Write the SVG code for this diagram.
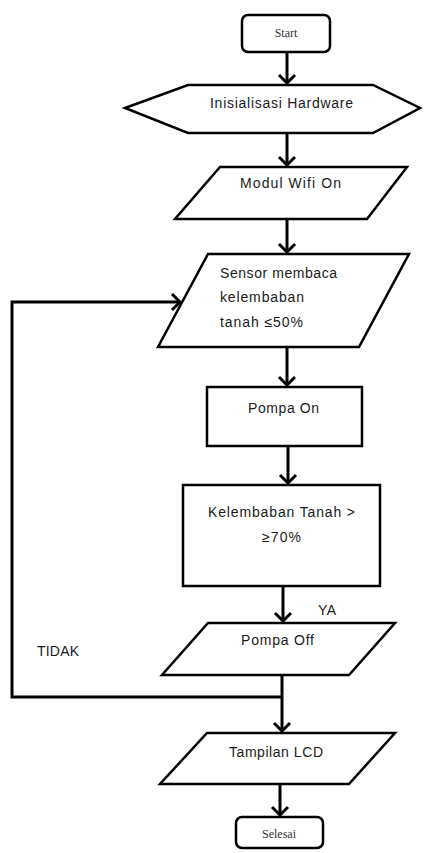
<svg xmlns="http://www.w3.org/2000/svg" width="435" height="853" viewBox="0 0 435 853">
<style>
.shape{fill:#fff;stroke:#000;stroke-width:2.5;stroke-linejoin:miter}
.t{font-family:"Liberation Sans",Arial,sans-serif;font-size:14px;fill:#1a1a1a}
.s{font-family:"Liberation Serif","Times New Roman",serif;font-size:12px;fill:#333}
.c{fill:none;stroke:#000;stroke-width:3}
</style>
<defs>
<marker id="ah" viewBox="-10 -10 12 20" markerWidth="12" markerHeight="20" refX="0" refY="0" orient="auto" markerUnits="userSpaceOnUse">
<path d="M-8,-8 L0,0 L-8,8" fill="none" stroke="#000" stroke-width="3"/>
</marker>
</defs>
<rect width="435" height="853" fill="#fff"/>
<g id="connectors">
<line class="c" x1="287" y1="52" x2="287" y2="83" marker-end="url(#ah)"/>
<line class="c" x1="287" y1="133" x2="287" y2="165" marker-end="url(#ah)"/>
<line class="c" x1="287" y1="219" x2="287" y2="252" marker-end="url(#ah)"/>
<line class="c" x1="287" y1="347" x2="287" y2="385" marker-end="url(#ah)"/>
<line class="c" x1="288" y1="446" x2="288" y2="483" marker-end="url(#ah)"/>
<line class="c" x1="283" y1="586" x2="283" y2="621" marker-end="url(#ah)"/>
<line class="c" x1="282" y1="675" x2="282" y2="731" marker-end="url(#ah)"/>
<polyline class="c" points="282,697 12,697 12,302 180,302" marker-end="url(#ah)"/>
<line class="c" x1="280" y1="784" x2="280" y2="815" marker-end="url(#ah)"/>
<text class="t" x="318" y="615" textLength="18">YA</text>
<text class="t" x="37" y="656" textLength="42">TIDAK</text>
</g>
<g id="start">
<rect class="shape" x="242" y="15" width="88" height="37" rx="6"/>
<text class="s" x="286" y="37" text-anchor="middle">Start</text>
</g>
<g id="inisialisasi">
<polygon class="shape" points="125,108 188,85 373,85 420,108 373,133 188,133"/>
<text class="t" x="210" y="108" textLength="143">Inisialisasi Hardware</text>
</g>
<g id="wifi">
<polygon class="shape" points="220,167 407,167 367,219 175,219"/>
<text class="t" x="240" y="188" textLength="101">Modul Wifi On</text>
</g>
<g id="sensor">
<polygon class="shape" points="208,254 409,254 359,347 158,347"/>
<text class="t" x="220" y="278" textLength="117">Sensor membaca</text>
<text class="t" x="220" y="302" textLength="84">kelembaban</text>
<text class="t" x="220" y="327" textLength="83">tanah ≤50%</text>
</g>
<g id="pompa-on">
<rect class="shape" x="207" y="387" width="155" height="59"/>
<text class="t" x="248" y="413" textLength="71">Pompa On</text>
</g>
<g id="kelembaban">
<rect class="shape" x="183" y="485" width="197" height="101"/>
<text class="t" x="208" y="517" textLength="147">Kelembaban Tanah &gt;</text>
<text class="t" x="262" y="542" textLength="39">≥70%</text>
</g>
<g id="pompa-off">
<polygon class="shape" points="208,623 395,623 349,675 162,675"/>
<text class="t" x="241" y="645" textLength="73">Pompa Off</text>
</g>
<g id="lcd">
<polygon class="shape" points="207,733 395,733 349,784 160,784"/>
<text class="t" x="229" y="757" textLength="94">Tampilan LCD</text>
</g>
<g id="selesai">
<rect class="shape" x="236" y="817" width="87" height="31" rx="6"/>
<text class="s" x="279" y="838" text-anchor="middle">Selesai</text>
</g>
</svg>
